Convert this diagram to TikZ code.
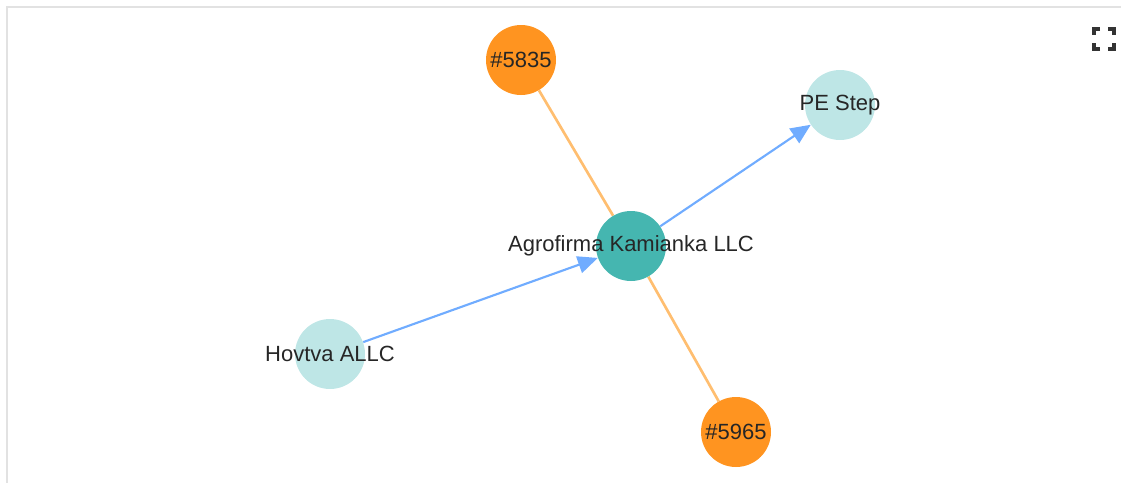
\documentclass[tikz,border=0pt]{standalone}
\usepackage{fontspec}
\setmainfont{Liberation Sans}
\usetikzlibrary{arrows.meta}
\usetikzlibrary{backgrounds}
\definecolor{orangenode}{RGB}{255,148,32}
\definecolor{orangeedge}{RGB}{255,190,112}
\definecolor{tealnode}{RGB}{69,182,176}
\definecolor{lighttealnode}{RGB}{190,230,230}
\definecolor{blueedge}{RGB}{112,172,255}
\definecolor{framegray}{RGB}{226,226,226}
\tikzstyle{vertex}=[circle,draw=none,minimum size=52.5pt,inner sep=0pt]
\tikzstyle{vlabel}=[font=\fontsize{16.5}{19}\selectfont,text=black!85,inner sep=0pt]
\tikzstyle{edge} = [draw,line width=1.6pt,blueedge,-{Triangle[length=15pt,width=13pt]}]
\tikzstyle{undirectededge} = [draw,line width=2pt,orangeedge]

\begin{document}
\begin{tikzpicture}[x=1pt,y=-1pt,scale=0.75]
\useasboundingbox (0,0) rectangle (1121,483);

    % frame of the panel
    \draw[framegray, line width=1.5pt] (6.5,483) -- (6.5,6.5) -- (1121,6.5);

    % fullscreen sign
    \foreach \x/\y/\dx/\dy in {1094/29/1/1, 1114/29/-1/1, 1094/49/1/-1, 1114/49/-1/-1}
        \draw[black!80, line width=2.4pt] (\x+6*\dx,\y) -- (\x,\y) -- (\x,\y+6*\dy);

    % First we draw the vertices
    \foreach \pos/\name/\col/\txt in {{(521,60)/n5835/orangenode/\#5835}, {(840,105)/pestep/lighttealnode/PE Step}, {(631,246)/agro/tealnode/Agrofirma Kamianka LLC}, {(330,354)/hovtva/lighttealnode/Hovtva ALLC}, {(736,432)/n5965/orangenode/\#5965}}
        \node[vertex, fill=\col, label={[vlabel]center:\txt}] (\name) at \pos {};

    % Connect vertices with edges
  \begin{pgfonlayer}{background}
  \foreach \source/ \dest in {n5835/agro, agro/n5965}
          \path[undirectededge] (\source) -- (\dest);
  \foreach \source/ \dest in {hovtva/agro, agro/pestep}
          \path[edge] (\source) -- (\dest);
  \end{pgfonlayer}

\end{tikzpicture}
\end{document}
